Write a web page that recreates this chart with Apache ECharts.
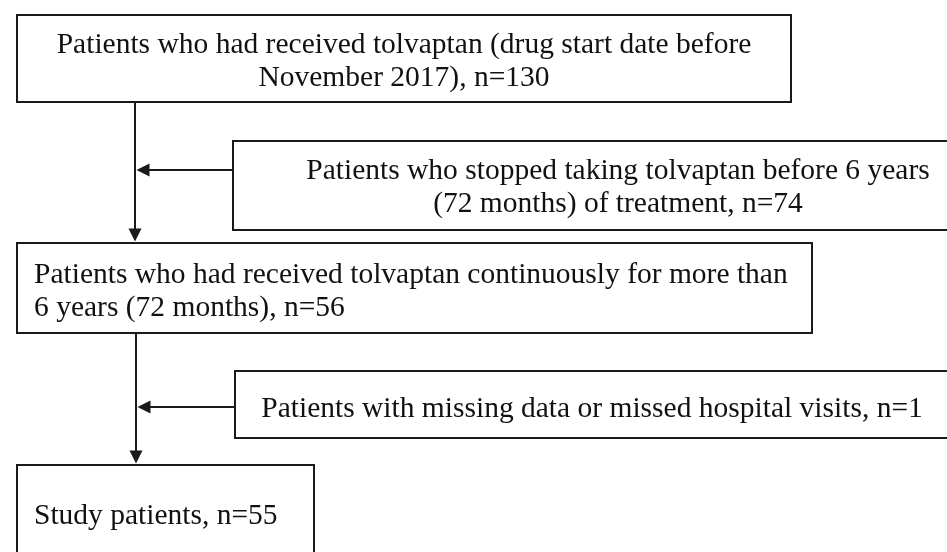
<!DOCTYPE html>
<html>
<head>
<meta charset="utf-8">
<title>Flow diagram</title>
<script src="https://cdn.jsdelivr.net/npm/echarts@6/dist/echarts.min.js"></script>
<style>
  html, body { margin: 0; padding: 0; background: #fff; }
  #chart { width: 947px; height: 552px; }
</style>
</head>
<body>
<div id="chart"></div>
<script>
// 流程图数据
const stageCounts = [130, 56, 55]
const excludedCounts = [74, 1]

const stageText = [
  ['Patients who had received tolvaptan (drug start date before', 'November 2017), n=' + stageCounts[0]],
  ['Patients who had received tolvaptan continuously for more than', '6 years (72 months), n=' + stageCounts[1]],
  ['Study patients, n=' + stageCounts[2]]
]
const excludedText = [
  ['Patients who stopped taking tolvaptan before 6 years', '(72 months) of treatment, n=' + excludedCounts[0]],
  ['Patients with missing data or missed hospital visits, n=' + excludedCounts[1]]
]

// 框的范围 [x0, y0, x1, y1]，坐标轴单位
const boxRects = [
  [17, 15, 791, 102],
  [233, 141, 975, 230],
  [17, 243, 812, 333],
  [235, 371, 975, 438],
  [17, 465, 314, 570]
]
// 每个框里文字的锚点 [x, 第一行中线, 对齐]
const boxTextAnchor = [
  [404, 45, 'center'],
  [618, 171, 'center'],
  [34, 275, 'left'],
  [592, 409, 'center'],
  [34, 516, 'left']
]
const boxLines = [stageText[0], excludedText[0], stageText[1], excludedText[1], stageText[2]]

// 箭头 [起点, 终点]
const arrows = [
  [[135, 102], [135, 235]],
  [[233, 170], [143, 170]],
  [[136, 333], [136, 457]],
  [[235, 407], [144, 407]]
]

const lineHeight = 33
const fontSize = 29.5
const lineColor = '#1a1a1a'
const fontFamily = '"Liberation Serif", "DejaVu Serif", serif'

const chart = echarts.init(document.getElementById('chart'))

const option = {
  animation: false,
  grid: { left: 0, right: 0, top: 0, bottom: 0 },
  xAxis: { type: 'value', min: 0, max: 947, show: false },
  yAxis: { type: 'value', min: 0, max: 552, inverse: true, show: false },
  series: [
    {
      type: 'custom',
      name: 'boxes',
      data: boxRects.map((r, i) => [r[0], r[1], r[2], r[3], i]),
      renderItem: (params, api) => {
        const p0 = api.coord([api.value(0), api.value(1)])
        const p1 = api.coord([api.value(2), api.value(3)])
        const idx = api.value(4)
        const anchor = boxTextAnchor[idx]
        const children = [{
          type: 'rect',
          shape: { x: p0[0], y: p0[1], width: p1[0] - p0[0], height: p1[1] - p0[1] },
          style: { fill: '#fff', stroke: lineColor, lineWidth: 2 }
        }]
        boxLines[idx].forEach((t, k) => {
          const pt = api.coord([anchor[0], anchor[1] + k * lineHeight])
          children.push({
            type: 'text',
            x: pt[0],
            y: pt[1],
            style: {
              text: t,
              fill: '#111',
              font: fontSize + 'px ' + fontFamily,
              align: anchor[2],
              verticalAlign: 'middle'
            }
          })
        })
        return { type: 'group', children }
      }
    },
    {
      type: 'lines',
      name: 'arrows',
      coordinateSystem: 'cartesian2d',
      symbol: ['none', 'triangle'],
      symbolSize: [13, 13],
      lineStyle: { color: lineColor, width: 2, opacity: 1 },
      itemStyle: { color: lineColor },
      data: arrows.map(a => ({ coords: a }))
    }
  ]
}

chart.setOption(option)
window.addEventListener('resize', () => chart.resize())
</script>
</body>
</html>
